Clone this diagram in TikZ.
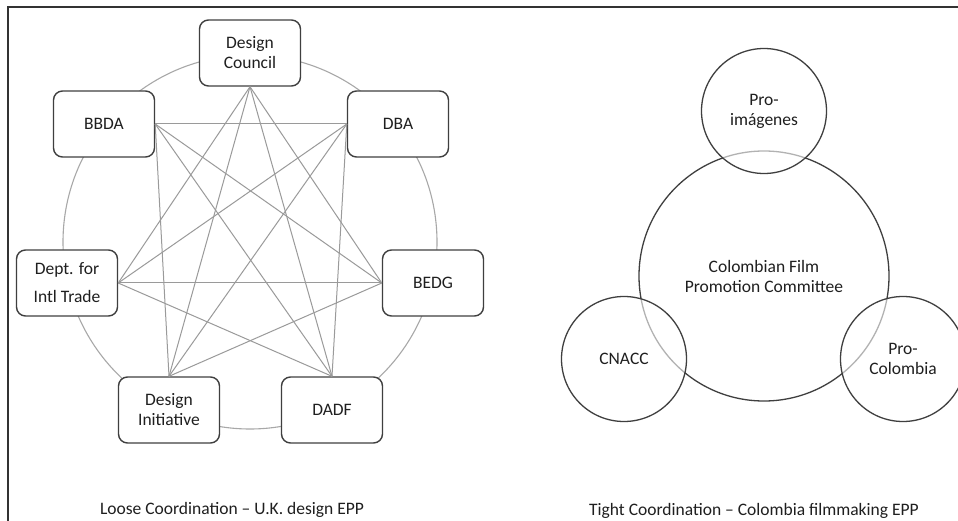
\documentclass[tikz,border=0pt]{standalone}
\usepackage{fontspec}
\setmainfont{Carlito}
\usepackage{xcolor}
\definecolor{eppframe}{HTML}{333333}
\definecolor{eppring}{HTML}{A8A8A8}
\definecolor{epplink}{HTML}{9A9A9A}
\definecolor{eppedge}{HTML}{3F3F3F}
\definecolor{epptext}{HTML}{1F1F1F}
\usepackage{tikz}
\usetikzlibrary{shapes}

\tikzset{
  eppbox/.style={draw=eppedge, line width=1.4pt, rounded corners=9pt, fill=white,
    minimum width=101pt, minimum height=66pt, align=center, text=epptext, inner sep=0pt},
  epplink/.style={draw=epplink, line width=1pt},
  eppcircle/.style={circle, draw=eppedge, line width=1.3pt, align=center, text=epptext, inner sep=0pt},
  epplabel/.style={text=epptext, inner sep=0pt}
}

\begin{document}
\begin{tikzpicture}[x=1pt,y=-1pt,font=\fontsize{17.5}{20}\selectfont]
    \useasboundingbox (0,0) rectangle (958,521);
     \fill[color=white] (0,0) rectangle (958,521);
     \draw[eppframe, line width=2pt] (958,7) -- (8,7) -- (8,521);
  % loose coordination
     \coordinate (ukcentre) at (250,242);
     \draw[eppring, line width=1.1pt] (ukcentre) circle[radius=187pt];
     \node[eppbox] (council) at (250,53) {Design\\Council};
     \node[eppbox] (bbda) at (104,124) {BBDA};
     \node[eppbox] (dba) at (398,124) {DBA};
     \node[eppbox] (dit) at (67,283) {Dept. for\\[8pt]Intl Trade};
     \node[eppbox] (bedg) at (433,283) {BEDG};
     \node[eppbox] (initiative) at (169,410) {Design\\Initiative};
     \node[eppbox] (dadf) at (332,410) {DADF};
     \foreach \a/\b in {council.south/dit.east, council.south/initiative.north,
                        council.south/dadf.north, council.south/bedg.west,
                        bbda.east/dba.west, bbda.east/bedg.west,
                        bbda.east/dadf.north, bbda.east/initiative.north,
                        dba.west/dit.east, dba.west/initiative.north,
                        dba.west/dadf.north, dit.east/bedg.west,
                        dit.east/dadf.north, bedg.west/initiative.north}
       \draw[epplink] (\a) -- (\b);
     \node[epplabel] (ukcaption) at (232,510) {Loose Coordination – U.K. design EPP};
  % tight coordination
     \node[eppcircle, minimum size=250pt] (committee) at (764,276) {Colombian Film\\Promotion Committee};
     \node[eppcircle, minimum size=125pt, fill=white, fill opacity=0.6, text opacity=1] (proimagenes) at (764,111) {Pro-\\imágenes};
     \node[eppcircle, minimum size=125pt, fill=white, fill opacity=0.6, text opacity=1] (cnacc) at (624,359) {CNACC};
     \node[eppcircle, minimum size=125pt, fill=white, fill opacity=0.6, text opacity=1] (procolombia) at (903,359) {Pro-\\Colombia};
     \node[epplabel] (cocaption) at (754,511) {Tight Coordination – Colombia filmmaking EPP};
  %  \draw[eppring] (committee) -- (cnacc);
    \end{tikzpicture}
\end{document}
